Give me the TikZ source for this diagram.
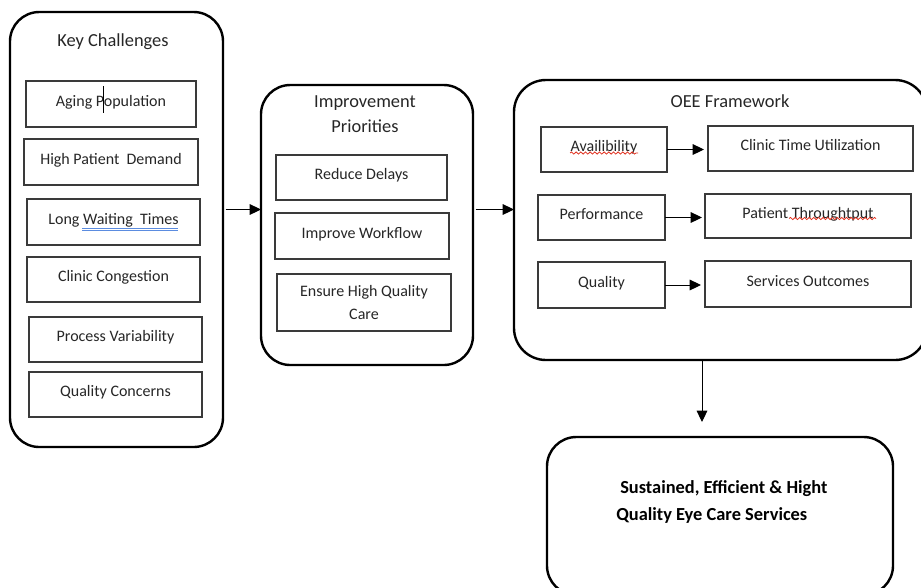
\documentclass[tikz,border=0pt]{standalone}
\usepackage{fontspec}
\setmainfont{Carlito}
\usetikzlibrary{arrows.meta,decorations.pathmorphing}
\definecolor{ink}{HTML}{262626}
\definecolor{boxline}{HTML}{3A3A3A}
\definecolor{wordblue}{HTML}{5B8CE0}
\definecolor{wavered}{HTML}{E0301E}
\begin{document}
\begin{tikzpicture}[x=0.75pt,y=-0.75pt,
  outerbox/.style={draw=black, line width=1.8pt, rounded corners=22pt, inner sep=0pt, outer sep=0pt},
  ibox/.style={draw=boxline, line width=0.8pt, inner sep=0pt, outer sep=0pt, text=ink,
    font=\fontsize{12}{17.25}\selectfont, align=center},
  ione/.style={ibox, text height=8.4pt, text depth=5.4pt},
  titletext/.style={text=ink, inner sep=0pt, align=center, font=\fontsize{13.8}{18.75}\selectfont},
  fintext/.style={text=black, inner sep=0pt, align=left, font=\bfseries\fontsize{13.8}{20.25}\selectfont},
  arr/.style={draw=black, line width=0.75pt, -{Triangle[length=8.5pt,width=8pt]}},
  spellwave/.style={draw=wavered, line width=0.6pt, decorate, decoration={snake, amplitude=0.8pt, segment length=3.5pt}},
  gramline/.style={draw=wordblue, line width=0.6pt},
  cursorbar/.style={draw=black, line width=0.6pt}
]
\useasboundingbox (0,0) rectangle (921,587);

% outer containers
\node[outerbox, minimum width=159.75pt, minimum height=326.25pt] (kc)  at (116.5,229.5) {};
\node[outerbox, minimum width=159pt,    minimum height=210pt]    (ip)  at (367,225) {};
\node[outerbox, minimum width=309.75pt, minimum height=210pt, rounded corners=24pt] (oee) at (720.5,220) {};
\node[outerbox, minimum width=259.5pt,  minimum height=118.5pt]  (fin) at (720,516) {};

% titles
\node[titletext] (kct)  at (113,42)    {Key Challenges};
\node[titletext] (ipt)  at (365,114.5) {Improvement\\Priorities};
\node[titletext] (oeet) at (730,101)   {OEE Framework};
\node[fintext, anchor=west] (fint) at (616,501.5) {\hspace{3pt}Sustained, Efficient \& Hight\\Quality Eye Care Services};

% Key Challenges items
\node[ione, minimum width=127.5pt,  minimum height=34.5pt]  (ag) at (111,104)     {Aging Population};
\node[ione, minimum width=130.5pt,  minimum height=34.5pt]  (hp) at (111,162)     {High Patient\ \ Demand};
\node[ione, minimum width=129.75pt, minimum height=34.5pt]  (lw) at (113.5,222)   {Long Waiting\ \ Times};
\node[ione, minimum width=129.75pt, minimum height=33.75pt] (cc) at (113.5,279.5) {Clinic Congestion};
\node[ione, minimum width=129.75pt, minimum height=33.75pt] (pv) at (115.5,339.5) {Process Variability};
\node[ione, minimum width=129.75pt, minimum height=33.75pt] (qc) at (115.5,394.5) {Quality Concerns};

% Improvement Priorities items
\node[ione, minimum width=128.25pt, minimum height=33.75pt] (rd) at (361.5,177.5) {Reduce Delays};
\node[ione, minimum width=130.5pt,  minimum height=34.5pt]  (iw) at (362,236)     {Improve Workflow};
\node[ibox, minimum width=130.5pt,  minimum height=42.75pt] (eh) at (364,302.5)   {Ensure High Quality\\Care};

% OEE items
\node[ione, minimum width=94.5pt,   minimum height=33.75pt] (av)  at (604,149.5)   {Availibility};
\node[ione, minimum width=153.75pt, minimum height=33.75pt] (ctu) at (810.5,148.5) {Clinic Time Utilization};
\node[ione, minimum width=95.25pt,  minimum height=33.75pt] (pf)  at (601.5,217.5) {Performance};
\node[ione, minimum width=154.5pt,  minimum height=33pt]    (pt)  at (808,216)     {Patient Throughtput};
\node[ione, minimum width=95.25pt,  minimum height=34.5pt]  (ql)  at (601.5,285)   {Quality};
\node[ione, minimum width=154.5pt,  minimum height=34.5pt]  (so)  at (808,284)     {Services Outcomes};

% connectors
\coordinate (ya) at (0,209.5);
\coordinate (dx) at (702,0);
\draw[arr, shorten <=2pt] (kc.east |- ya) -- (ip.west |- ya);
\draw[arr, shorten <=2pt] (ip.east |- ya) -- (oee.west |- ya);
\draw[arr, shorten >=3pt] (av.east) -- (av.east -| ctu.west);
\draw[arr, shorten >=2.25pt] (pf.east) -- (pf.east -| pt.west);
\draw[arr, shorten >=3pt] (ql.east) -- (ql.east -| so.west);
\draw[arr, shorten >=11.25pt] (oee.south -| dx) -- (fin.north -| dx);

% editor marks shown in the picture
\draw[gramline] (82,228) -- (178,228) (82,230.5) -- (178,230.5);
\draw[spellwave] (570,153) -- (638,153);
\draw[spellwave] (789,218.5) -- (876,218.5);
\draw[cursorbar] (103,86) -- (103,113);
\end{tikzpicture}
\end{document}
